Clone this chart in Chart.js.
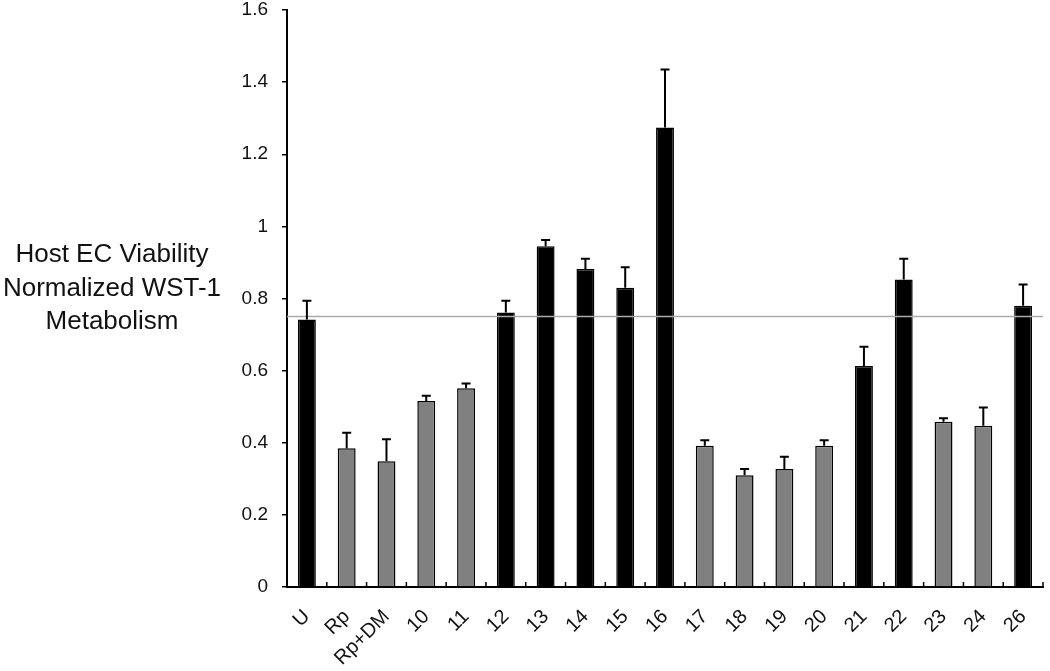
<html>
<head>
    <meta charset="UTF-8">
    <script src="https://cdn.jsdelivr.net/npm/chart.js"></script>
    <title>Host EC Viability</title>
    <style>
        body { margin: 0; background: #fff; }
    </style>
</head>
<body>
    <div style="width: 1050px; height: 671px;"><canvas id="viability"></canvas></div>
    <script>
        const labels = ['U', 'Rp', 'Rp+DM', '10', '11', '12', '13', '14', '15', '16', '17', '18', '19', '20', '21', '22', '23', '24', '26'];
        const means = [0.742, 0.385, 0.349, 0.516, 0.551, 0.761, 0.945, 0.882, 0.830, 1.274, 0.392, 0.310, 0.327, 0.392, 0.613, 0.853, 0.458, 0.447, 0.780];
        const errors = [0.052, 0.043, 0.061, 0.014, 0.013, 0.033, 0.017, 0.028, 0.057, 0.161, 0.015, 0.017, 0.034, 0.015, 0.053, 0.057, 0.010, 0.051, 0.059];
        // 1 = black bar, 0 = grey bar
        const groups = [1, 0, 0, 0, 0, 1, 1, 1, 1, 1, 0, 0, 0, 0, 1, 1, 0, 0, 1];
        const refLine = 0.75;
        const yTitle = ['Host EC Viability', 'Normalized WST-1', 'Metabolism'];

        const fontFamily = '"Liberation Sans", Arial, sans-serif';

        // error bars, reference line, minor x ticks and the y title
        const extras = {
            id: 'extras',
            afterDatasetsDraw(chart) {
                const ctx = chart.ctx;
                const x = chart.scales.x;
                const y = chart.scales.y;
                const area = chart.chartArea;
                ctx.save();

                // grey reference line
                const yRef = y.getPixelForValue(refLine);
                ctx.strokeStyle = '#aaaaaa';
                ctx.lineWidth = 1.5;
                ctx.beginPath();
                ctx.moveTo(area.left, yRef);
                ctx.lineTo(area.right, yRef);
                ctx.stroke();

                // error bars (upper only)
                ctx.strokeStyle = '#000';
                ctx.lineWidth = 2;
                for (let i = 0; i < means.length; i++) {
                    const cx = x.getPixelForValue(i);
                    const top = y.getPixelForValue(means[i] + errors[i]);
                    const base = y.getPixelForValue(means[i]);
                    ctx.beginPath();
                    ctx.moveTo(cx, base);
                    ctx.lineTo(cx, top);
                    ctx.moveTo(cx - 4.5, top);
                    ctx.lineTo(cx + 4.5, top);
                    ctx.stroke();
                }

                // small tick marks between categories, pointing up
                const step = x.getPixelForValue(1) - x.getPixelForValue(0);
                ctx.lineWidth = 1.5;
                for (let i = 0; i <= labels.length; i++) {
                    const tx = x.getPixelForValue(0) - step / 2 + i * step;
                    ctx.beginPath();
                    ctx.moveTo(tx, area.bottom);
                    ctx.lineTo(tx, area.bottom - 5);
                    ctx.stroke();
                }

                // y title, horizontal, three lines
                ctx.fillStyle = '#111';
                ctx.font = '26px ' + fontFamily;
                ctx.textAlign = 'center';
                ctx.textBaseline = 'middle';
                yTitle.forEach((line, k) => {
                    ctx.fillText(line, 112, 255 + k * 33.5);
                });
                ctx.restore();
            }
        };

        const data = {
            labels: labels,
            datasets: [{
                data: means,
                backgroundColor: groups.map(g => g ? '#000000' : '#808080'),
                borderColor: '#000000',
                borderWidth: 1.5,
                borderSkipped: 'bottom',
                categoryPercentage: 1,
                barPercentage: 0.45
            }]
        };

        const config = {
            type: 'bar',
            data: data,
            options: {
                responsive: true,
                maintainAspectRatio: false,
                animation: false,
                layout: { padding: { top: 10, right: 7, left: 0, bottom: 0 } },
                plugins: {
                    legend: { display: false },
                    tooltip: { enabled: false }
                },
                scales: {
                    x: {
                        grid: { display: false },
                        border: { display: true, color: '#000', width: 2 },
                        ticks: {
                            color: '#111',
                            font: { family: fontFamily, size: 20 },
                            minRotation: 45,
                            maxRotation: 45,
                            autoSkip: false,
                            padding: 10
                        },
                        afterFit(scale) {
                            scale.height = 84;
                            scale.paddingLeft = 0;
                            scale.paddingRight = 0;
                        }
                    },
                    y: {
                        min: 0,
                        max: 1.6,
                        grid: {
                            display: true,
                            drawOnChartArea: false,
                            drawTicks: true,
                            tickLength: 5,
                            color: '#000',
                            lineWidth: 1.5
                        },
                        border: { display: true, color: '#000', width: 2 },
                        ticks: {
                            stepSize: 0.2,
                            color: '#111',
                            font: { family: fontFamily, size: 19 },
                            padding: 14,
                            callback: v => String(Number(v.toFixed(1)))
                        },
                        afterFit(scale) {
                            scale.width = 287;
                            scale.paddingTop = 0;
                            scale.paddingBottom = 0;
                        }
                    }
                }
            },
            plugins: [extras]
        };

        const myChart = new Chart(document.getElementById('viability'), config);
    </script>
</body>
</html>
